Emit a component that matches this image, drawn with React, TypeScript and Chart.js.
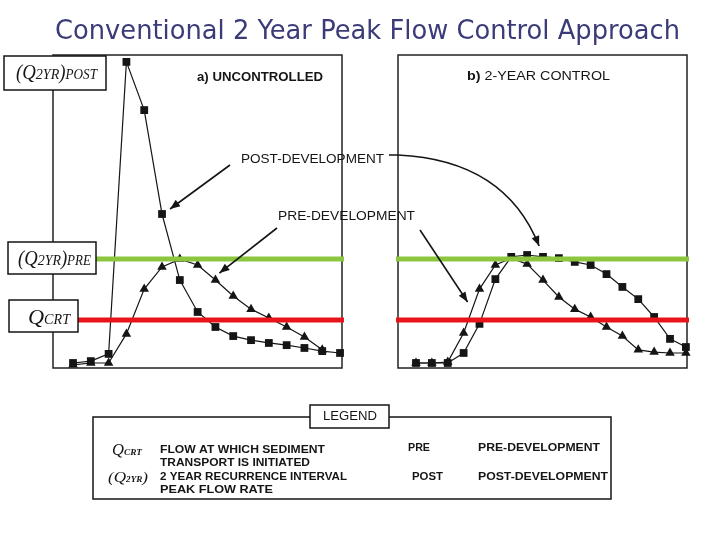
import React, { useEffect, useRef } from "react";
import { Chart, registerables } from "chart.js";
Chart.register(...registerables);

const TITLE = "Conventional 2 Year Peak Flow Control Approach";

// Panel a) UNCONTROLLED — time steps and flows (relative units, 0..100)
const stepsA = [0, 1, 2, 3, 4, 5, 6, 7, 8, 9, 10, 11, 12, 13, 14, 15];
const postA = [1.6, 2.2, 4.5, 97.8, 82.4, 49.2, 28.1, 17.9, 13.1, 10.2, 8.9, 8.0, 7.3, 6.4, 5.4, 4.8];
const preA = [1.0, 1.6, 1.6, 10.9, 25.2, 32.3, 34.8, 32.9, 28.1, 23.0, 18.8, 16.0, 13.1, 9.9, 5.8];

// Panel b) 2-YEAR CONTROL
const stepsB = [0, 1, 2, 3, 4, 5, 6, 7, 8, 9, 10, 11, 12, 13, 14, 15, 16, 17];
const postB = [1.6, 1.6, 1.6, 4.8, 14.1, 28.4, 35.5, 36.1, 35.5, 35.1, 33.9, 32.9, 30.0, 25.9, 22.0, 16.3, 9.3, 6.7];
const preB = [1.6, 1.6, 1.9, 11.2, 25.2, 32.9, 35.1, 33.2, 28.1, 22.7, 18.8, 16.3, 13.1, 10.2, 5.8, 5.1, 4.8, 4.8];

// Threshold flows
const Q2YR_PRE = 34.8;
const Q_CRT = 15.3;

const legendLeft = [
  ["FLOW AT WHICH SEDIMENT", "TRANSPORT IS INITIATED"],
  ["2 YEAR RECURRENCE INTERVAL", "PEAK FLOW RATE"],
];
const legendRight = [
  ["PRE", "PRE-DEVELOPMENT"],
  ["POST", "POST-DEVELOPMENT"],
];

const GREEN = "#8cc63e";
const RED = "#e8141c";
const INK = "#151515";
const SANS = "'Liberation Sans', Arial, sans-serif";
const SERIF = "'Liberation Serif', serif";

type Piece = [string, string];

function drawRich(ctx: CanvasRenderingContext2D, pieces: Piece[], x: number, baseline: number, width: number, color = INK) {
  ctx.save();
  let total = 0;
  const ws: number[] = [];
  for (const [t, f] of pieces) {
    ctx.font = f;
    const w = ctx.measureText(t).width;
    ws.push(w);
    total += w;
  }
  ctx.translate(x, baseline);
  ctx.scale(width / total, 1);
  ctx.fillStyle = color;
  ctx.textBaseline = "alphabetic";
  ctx.textAlign = "left";
  let cx = 0;
  pieces.forEach(([t, f], i) => {
    ctx.font = f;
    ctx.fillText(t, cx, 0);
    cx += ws[i];
  });
  ctx.restore();
}

function fitText(ctx: CanvasRenderingContext2D, text: string, x: number, yMid: number, width: number, font: string, color = INK) {
  ctx.save();
  ctx.font = font;
  const w = ctx.measureText(text).width;
  ctx.translate(x, yMid);
  ctx.scale(width / w, 1);
  ctx.fillStyle = color;
  ctx.textBaseline = "middle";
  ctx.textAlign = "left";
  ctx.fillText(text, 0, 0);
  ctx.restore();
}

function arrowHead(ctx: CanvasRenderingContext2D, fromX: number, fromY: number, tipX: number, tipY: number) {
  const a = Math.atan2(tipY - fromY, tipX - fromX);
  const L = 10, W = 4;
  ctx.beginPath();
  ctx.moveTo(tipX, tipY);
  ctx.lineTo(tipX - L * Math.cos(a) + W * Math.sin(a), tipY - L * Math.sin(a) - W * Math.cos(a));
  ctx.lineTo(tipX - L * Math.cos(a) - W * Math.sin(a), tipY - L * Math.sin(a) + W * Math.cos(a));
  ctx.closePath();
  ctx.fill();
}

function straightArrow(ctx: CanvasRenderingContext2D, x1: number, y1: number, x2: number, y2: number) {
  ctx.save();
  ctx.strokeStyle = INK;
  ctx.fillStyle = INK;
  ctx.lineWidth = 1.6;
  ctx.beginPath();
  ctx.moveTo(x1, y1);
  ctx.lineTo(x2, y2);
  ctx.stroke();
  arrowHead(ctx, x1, y1, x2, y2);
  ctx.restore();
}

function box(ctx: CanvasRenderingContext2D, x1: number, y1: number, x2: number, y2: number) {
  ctx.save();
  ctx.fillStyle = "#fff";
  ctx.fillRect(x1, y1, x2 - x1, y2 - y1);
  ctx.strokeStyle = INK;
  ctx.lineWidth = 1.5;
  ctx.strokeRect(x1, y1, x2 - x1, y2 - y1);
  ctx.restore();
}

function frame(chart: any, ctx: CanvasRenderingContext2D) {
  const a = chart.chartArea;
  ctx.save();
  ctx.strokeStyle = "#222";
  ctx.lineWidth = 1.5;
  ctx.strokeRect(a.left, a.top, a.right - a.left, a.bottom - a.top);
  ctx.restore();
}

function threshold(chart: any, ctx: CanvasRenderingContext2D, value: number, color: string, x1: number) {
  const y = chart.scales.y.getPixelForValue(value);
  ctx.save();
  ctx.strokeStyle = color;
  ctx.lineWidth = 5;
  ctx.beginPath();
  ctx.moveTo(x1, y);
  ctx.lineTo(chart.chartArea.right + 2, y);
  ctx.stroke();
  ctx.restore();
}

function pt(chart: any, i: number, arr: number[], steps: number[]) {
  return { x: chart.scales.x.getPixelForValue(steps[i]), y: chart.scales.y.getPixelForValue(arr[i]) };
}

const panelAPlugin = {
  id: "panelA",
  beforeDatasetsDraw(chart: any) {
    frame(chart, chart.ctx);
  },
  afterDatasetsDraw(chart: any) {
    const ctx = chart.ctx;
    threshold(chart, ctx, Q2YR_PRE, GREEN, 96);
    threshold(chart, ctx, Q_CRT, RED, 78);
  },
  afterDraw(chart: any) {
    const ctx: CanvasRenderingContext2D = chart.ctx;
    // Title
    fitText(ctx, TITLE, 55, 32, 625, "27px 'DejaVu Sans', sans-serif", "#3b3b78");

    // Label boxes on the left
    const big = (s: number) => `italic ${s}px ${SERIF}`;
    box(ctx, 4, 56, 106, 90);
    drawRich(ctx, [["(", big(20)], ["Q", big(20)], ["2YR", big(15)], [")", big(20)], ["POST", big(14)]], 16, 79, 81);
    box(ctx, 8, 242, 96, 274);
    drawRich(ctx, [["(", big(20)], ["Q", big(20)], ["2YR", big(15)], [")", big(20)], ["PRE", big(14)]], 18, 265, 73);
    box(ctx, 9, 300, 78, 332);
    drawRich(ctx, [["Q", big(22)], ["CRT", big(14)]], 28, 324, 42);

    // Panel caption
    fitText(ctx, "a) UNCONTROLLED", 197, 77, 126, `bold 13px ${SANS}`);

    // Curve labels
    fitText(ctx, "POST-DEVELOPMENT", 241, 159, 143, `13px ${SANS}`);
    fitText(ctx, "PRE-DEVELOPMENT", 278, 216, 137, `13px ${SANS}`);

    // Arrows pointing at the curves
    const p = pt(chart, 5, postA, stepsA);
    straightArrow(ctx, 230, 165, p.x + 8, p.y - 5);
    const q = pt(chart, 8, preA, stepsA);
    straightArrow(ctx, 277, 228, q.x + 4, q.y - 7);

    // Legend
    ctx.save();
    ctx.strokeStyle = INK;
    ctx.lineWidth = 1.5;
    ctx.strokeRect(93, 417, 518, 82);
    ctx.restore();
    box(ctx, 310, 405, 389, 428);
    fitText(ctx, "LEGEND", 323, 417, 54, `12px ${SANS}`);

    drawRich(ctx, [["Q", big(16)], ["CRT", `italic bold 9px ${SERIF}`]], 112, 455, 30);
    drawRich(ctx, [["(", big(15)], ["Q", big(15)], ["2YR", `italic bold 8px ${SERIF}`], [")", big(15)]], 108, 482, 40);

    const lf = `bold 11px ${SANS}`;
    fitText(ctx, legendLeft[0][0], 160, 450, 165, lf);
    fitText(ctx, legendLeft[0][1], 160, 463, 150, lf);
    fitText(ctx, legendLeft[1][0], 160, 477, 187, lf);
    fitText(ctx, legendLeft[1][1], 160, 490, 113, lf);

    fitText(ctx, legendRight[0][0], 408, 448, 22, lf);
    fitText(ctx, legendRight[0][1], 478, 448, 122, lf);
    fitText(ctx, legendRight[1][0], 412, 477, 31, lf);
    fitText(ctx, legendRight[1][1], 478, 477, 130, lf);
  },
};

const panelBPlugin = {
  id: "panelB",
  beforeDatasetsDraw(chart: any) {
    frame(chart, chart.ctx);
  },
  afterDatasetsDraw(chart: any) {
    const ctx = chart.ctx;
    threshold(chart, ctx, Q2YR_PRE, GREEN, 396);
    threshold(chart, ctx, Q_CRT, RED, 396);
  },
  afterDraw(chart: any) {
    const ctx: CanvasRenderingContext2D = chart.ctx;
    drawRich(ctx, [["b)", `bold 13px ${SANS}`], [" 2-YEAR CONTROL", `13px ${SANS}`]], 467, 80, 143);

    // Curved arrow from POST-DEVELOPMENT label to controlled peak
    const p = pt(chart, 7, postB, stepsB);
    const tipX = p.x + 12, tipY = p.y - 9;
    const cx = 505, cy = 160;
    ctx.save();
    ctx.strokeStyle = INK;
    ctx.fillStyle = INK;
    ctx.lineWidth = 1.6;
    ctx.beginPath();
    ctx.moveTo(389, 155);
    ctx.lineTo(398, 155);
    ctx.quadraticCurveTo(cx, cy, tipX, tipY);
    ctx.stroke();
    arrowHead(ctx, cx, cy, tipX, tipY);
    ctx.restore();

    const q = pt(chart, 3, preB, stepsB);
    straightArrow(ctx, 420, 230, q.x + 4, q.y - 31);
  },
};

function lineDatasets(steps: number[], post: number[], pre: number[]) {
  const base = {
    borderColor: INK,
    borderWidth: 1.2,
    backgroundColor: INK,
    pointBackgroundColor: INK,
    pointBorderColor: INK,
    pointBorderWidth: 0,
    tension: 0,
    fill: false,
    clip: false as any,
  };
  return [
    {
      ...base,
      label: "PRE",
      data: pre.map((y, i) => ({ x: steps[i], y })),
      pointStyle: "triangle",
      pointRadius: 5.5,
    },
    {
      ...base,
      label: "POST",
      data: post.map((y, i) => ({ x: steps[i], y })),
      pointStyle: "rect",
      pointRadius: 5.5,
    },
  ];
}

function makeOptions(padding: any, xmin: number, xmax: number) {
  return {
    responsive: false,
    animation: false as const,
    events: [],
    layout: { padding },
    plugins: { legend: { display: false }, tooltip: { enabled: false }, title: { display: false } },
    scales: {
      x: { type: "linear" as const, min: xmin, max: xmax, display: false },
      y: { type: "linear" as const, min: 0, max: 100, display: false },
    },
  };
}

export default function App() {
  const refA = useRef<HTMLCanvasElement>(null);
  const refB = useRef<HTMLCanvasElement>(null);

  useEffect(() => {
    const chartA = new Chart(refA.current!, {
      type: "line",
      data: { datasets: lineDatasets(stepsA, postA, preA) as any },
      options: makeOptions({ left: 53, top: 55, right: 720 - 342, bottom: 540 - 368 }, -1.124, 15.11) as any,
      plugins: [panelAPlugin],
    });
    const chartB = new Chart(refB.current!, {
      type: "line",
      data: { datasets: lineDatasets(stepsB, postB, preB) as any },
      options: makeOptions({ left: 398, top: 55, right: 720 - 687, bottom: 540 - 368 }, -1.133, 17.07) as any,
      plugins: [panelBPlugin],
    });
    return () => {
      chartA.destroy();
      chartB.destroy();
    };
  }, []);

  const cs: React.CSSProperties = { position: "absolute", left: 0, top: 0, width: 720, height: 540 };
  return (
    <div style={{ position: "fixed", left: 0, top: 0, width: 720, height: 540, background: "#fff", overflow: "hidden" }}>
      <canvas ref={refA} width={720} height={540} style={cs} />
      <canvas ref={refB} width={720} height={540} style={cs} />
    </div>
  );
}
